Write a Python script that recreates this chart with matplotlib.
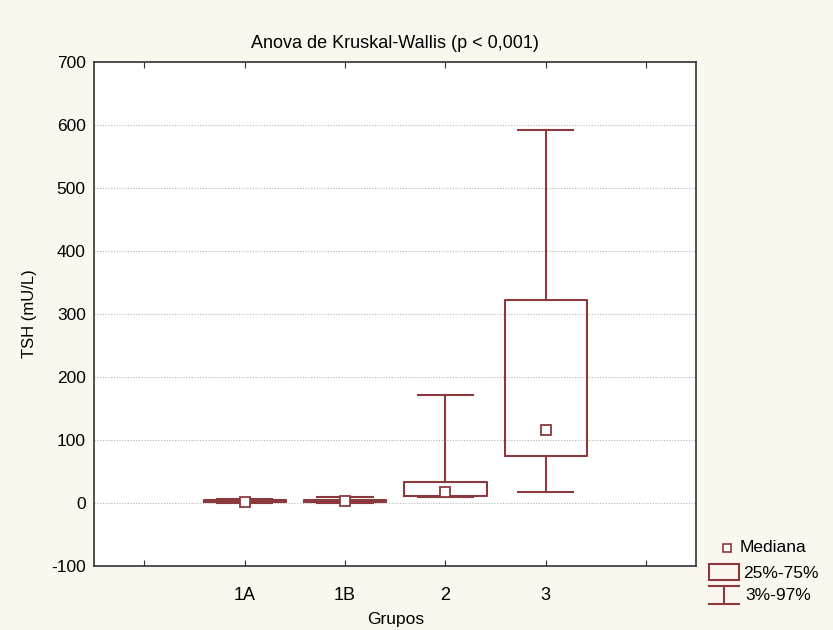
"""
Box plot of TSH by group (medians, quartiles, 3%-97% range).
"""
import matplotlib
matplotlib.use("Agg")
import matplotlib.pyplot as plt
from matplotlib.lines import Line2D
from matplotlib.patches import Rectangle

plt.rcParams['font.family'] = ['Liberation Sans', 'DejaVu Sans']
plt.rcParams['axes.unicode_minus'] = False

groups = ['1A', '1B', '2', '3']
p03 = [0.3, 0.2, 9, 17]
q25 = [2.0, 1.0, 11, 75]
median = [0.8, 3.0, 17, 116]
q75 = [5.5, 5.0, 33, 323]
p97 = [7.0, 10.0, 171, 592]

box_color = '#8a3a3e'
bg = '#faf7ef'

fig = plt.figure(figsize=(8.33, 6.3), dpi=100, facecolor=bg)
ax = fig.add_axes([0.113, 0.1016, 0.723, 0.80])
ax.set_facecolor('white')

stats = []
for g, lo, a, m, b, hi in zip(groups, p03, q25, median, q75, p97):
    stats.append(dict(label=g, whislo=lo, q1=a, med=m, q3=b, whishi=hi, fliers=[]))

pos = list(range(1, len(groups) + 1))
ax.bxp(stats, positions=pos, widths=0.82, capwidths=0.55, showfliers=False,
       boxprops=dict(color=box_color, linewidth=1.5),
       whiskerprops=dict(color=box_color, linewidth=1.5),
       capprops=dict(color=box_color, linewidth=1.5),
       medianprops=dict(visible=False))
ax.plot(pos, median, linestyle='none', marker='s', markersize=7,
        markerfacecolor='white', markeredgecolor=box_color, markeredgewidth=1.3, zorder=4)

ax.set_xlim(-0.5, 5.5)
ax.set_ylim(-100, 700)
ax.set_xticks(range(0, 6))
ax.set_xticklabels([''] + groups + [''])
ax.set_yticks(range(-100, 701, 100))
ax.yaxis.grid(True, linestyle=(0, (1, 1.5)), color='#b5b5b5', linewidth=0.8)
ax.set_axisbelow(True)
ax.tick_params(axis='x', direction='in', top=True, length=4, labelsize=13, pad=15, color='#333333')
ax.tick_params(axis='y', length=0, labelsize=12.5, pad=6)
for s in ax.spines.values():
    s.set_color('#333333')
    s.set_linewidth(1.2)

ax.set_title('Anova de Kruskal-Wallis (p < 0,001)', fontsize=13, pad=10)
ax.set_xlabel('Grupos', fontsize=12.5, labelpad=6)
ax.set_ylabel('TSH (mU/L)', fontsize=12, labelpad=10)

# legend drawn beside the axes
tf = fig.transFigure
fig.add_artist(Line2D([727 / 833], [1 - 548 / 630], marker='s', markersize=6,
                      markerfacecolor='white', markeredgecolor=box_color,
                      markeredgewidth=1.2, transform=tf))
fig.text(740 / 833, 1 - 548 / 630, 'Mediana', fontsize=12.5, va='center')
fig.add_artist(Rectangle((709 / 833, 1 - 580 / 630), 30 / 833, 16 / 630, fill=False,
                         edgecolor=box_color, linewidth=1.5, transform=tf))
fig.text(743 / 833, 1 - 573 / 630, '25%-75%', fontsize=12.5, va='center')
fig.add_artist(Line2D([709 / 833, 739 / 833], [1 - 586 / 630] * 2, color=box_color,
                      linewidth=1.5, transform=tf))
fig.add_artist(Line2D([724 / 833] * 2, [1 - 586 / 630, 1 - 604 / 630], color=box_color,
                      linewidth=1.5, transform=tf))
fig.add_artist(Line2D([709 / 833, 739 / 833], [1 - 604 / 630] * 2, color=box_color,
                      linewidth=1.5, transform=tf))
fig.text(745 / 833, 1 - 595 / 630, '3%-97%', fontsize=12.5, va='center')

fig.savefig('out.png', dpi=100, facecolor=bg)
